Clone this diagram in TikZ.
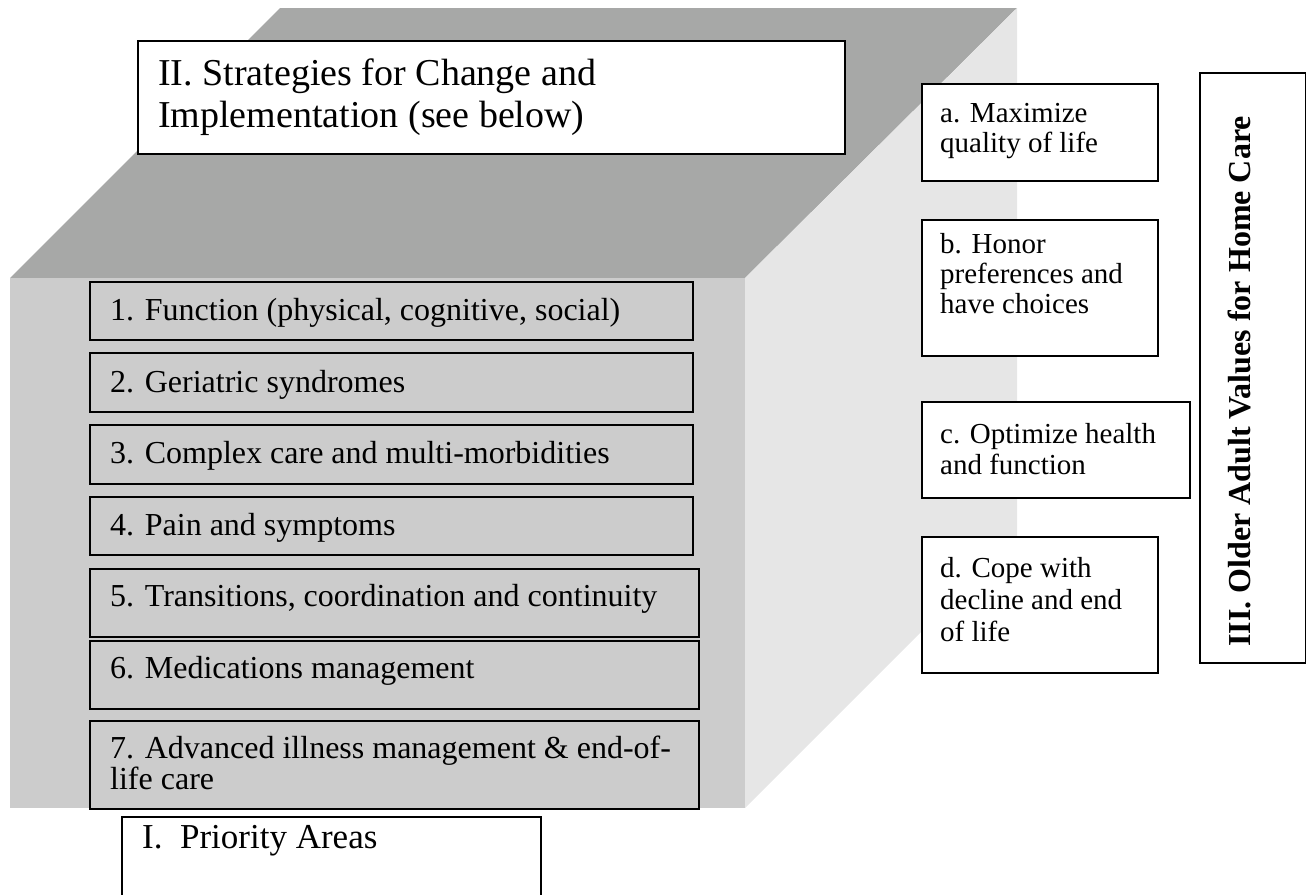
\documentclass[tikz,border=0pt]{standalone}
\usepackage{fontspec}
\setmainfont{Liberation Serif}
\definecolor{topgray}{HTML}{A7A8A7}
\definecolor{frontgray}{HTML}{CCCCCC}
\definecolor{sidegray}{HTML}{E6E6E6}
\begin{document}
\begin{tikzpicture}[x=1pt,y=-1pt,
  pbox/.style={draw=black, line width=1.6pt, fill=frontgray, rectangle, inner sep=0pt, anchor=north west},
  wbox/.style={draw=black, line width=1.6pt, fill=white, rectangle, inner sep=0pt, anchor=north west},
  ptext/.style={anchor=base west, inner sep=0pt, font=\fontsize{32}{31}\selectfont},
  vtext/.style={anchor=base west, inner sep=0pt, font=\fontsize{29}{30}\selectfont},
  bigtext/.style={anchor=base west, inner sep=0pt, font=\fontsize{38}{42}\selectfont}
]
\useasboundingbox (0,0) rectangle (1306,894);
\clip (0,0) rectangle (1306,894);
% cube faces
\fill[topgray] (10,278) -- (280,8) -- (1017,8) -- (745,278) -- cycle;
\fill[frontgray] (10,278) rectangle (745,808);
\fill[sidegray] (745,278) -- (1017,8) -- (1017,536) -- (745,808) -- cycle;

% II box
\node[wbox, minimum width=707pt, minimum height=113pt] (strat) at (137,40) {};
\node[bigtext] (strattxt) at (158,85) {\begin{tabular}[t]{@{}l@{}}II. Strategies for Change and\\ Implementation (see below)\end{tabular}};

% priority boxes
\node[pbox, minimum width=603pt, minimum height=58pt] (p1) at (89,281) {};
\node[pbox, minimum width=603pt, minimum height=59pt] (p2) at (89,352) {};
\node[pbox, minimum width=603pt, minimum height=59pt] (p3) at (89,424) {};
\node[pbox, minimum width=603pt, minimum height=58pt] (p4) at (89,496) {};
\node[pbox, minimum width=609pt, minimum height=68pt] (p5) at (89,568) {};
\node[pbox, minimum width=609pt, minimum height=68pt] (p6) at (89,640) {};
\node[pbox, minimum width=609pt, minimum height=88pt] (p7) at (89,720) {};
\node[ptext] (t1) at (110,320) {1. Function (physical, cognitive, social)};
\node[ptext] (t2) at (110,392) {2. Geriatric syndromes};
\node[ptext] (t3) at (110,463) {3. Complex care and multi-morbidities};
\node[ptext] (t4) at (110,535) {4. Pain and symptoms};
\node[ptext] (t5) at (110,606) {5. Transitions, coordination and continuity};
\node[ptext] (t6) at (110,678) {6. Medications management};
\node[ptext] (t7) at (110,758) {\begin{tabular}[t]{@{}l@{}}7. Advanced illness management \& end-of-\\ life care\end{tabular}};

% I box
\node[wbox, minimum width=419pt, minimum height=90pt] (prio) at (121,816) {};
\node[anchor=base west, inner sep=0pt, font=\fontsize{35}{40}\selectfont] (priotxt) at (142,848) {I.\ \ Priority Areas};

% values boxes
\node[wbox, minimum width=236pt, minimum height=97pt] (va) at (921,83) {};
\node[wbox, minimum width=236pt, minimum height=136pt] (vb) at (921,219) {};
\node[wbox, minimum width=268pt, minimum height=96pt] (vc) at (921,401) {};
\node[wbox, minimum width=236pt, minimum height=136pt] (vd) at (921,536) {};
\node[vtext] (ta) at (940,122) {\begin{tabular}[t]{@{}l@{}}a. Maximize\\ quality of life\end{tabular}};
\node[vtext] (tb) at (940,253) {\begin{tabular}[t]{@{}l@{}}b. Honor\\ preferences and\\ have choices\end{tabular}};
\node[vtext, font=\fontsize{29}{31}\selectfont] (tc) at (940,443) {\begin{tabular}[t]{@{}l@{}}c. Optimize health\\ and function\end{tabular}};
\node[vtext, font=\fontsize{29}{32}\selectfont] (td) at (940,577) {\begin{tabular}[t]{@{}l@{}}d. Cope with\\ decline and end\\ of life\end{tabular}};

% III box
\node[wbox, minimum width=106pt, minimum height=590pt] (vals) at (1199,72) {};
\node[anchor=base west, inner sep=0pt, rotate=90, font=\fontsize{32}{36}\selectfont\bfseries] (valstxt) at (1250,647) {III. Older Adult Values for Home Care};
\end{tikzpicture}
\end{document}
